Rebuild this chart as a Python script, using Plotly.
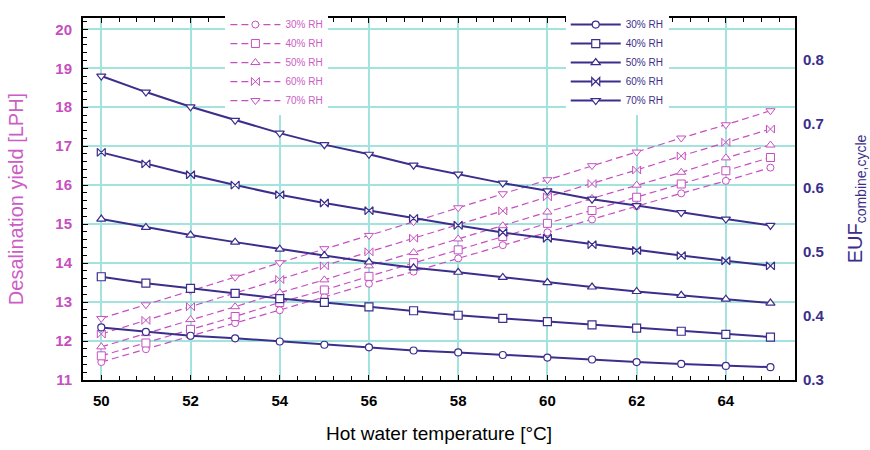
import plotly.graph_objects as go

temps = list(range(50, 66))
rh_labels = ["30% RH", "40% RH", "50% RH", "60% RH", "70% RH"]
symbols = ["circle", "square", "triangle-up", "bowtie", "triangle-down"]
marker_sizes = [7, 8, 8, 8, 8]

yield_30 = [11.46, 11.79, 12.13, 12.46, 12.79, 13.13, 13.47, 13.78, 14.12, 14.46, 14.79, 15.12, 15.46, 15.79, 16.11, 16.45]
yield_40 = [11.62, 11.95, 12.30, 12.63, 12.99, 13.31, 13.66, 14.01, 14.34, 14.68, 15.02, 15.35, 15.69, 16.03, 16.37, 16.71]
yield_50 = [11.85, 12.19, 12.55, 12.88, 13.24, 13.57, 13.93, 14.27, 14.62, 14.96, 15.31, 15.66, 16.00, 16.33, 16.70, 17.03]
yield_60 = [12.18, 12.53, 12.88, 13.22, 13.58, 13.93, 14.29, 14.64, 14.98, 15.34, 15.70, 16.04, 16.39, 16.75, 17.10, 17.44]
yield_70 = [12.58, 12.93, 13.30, 13.64, 14.01, 14.37, 14.71, 15.06, 15.42, 15.78, 16.14, 16.50, 16.85, 17.21, 17.55, 17.91]

euf_30 = [0.382, 0.375, 0.369, 0.365, 0.360, 0.355, 0.351, 0.346, 0.343, 0.339, 0.335, 0.332, 0.328, 0.325, 0.322, 0.320]
euf_40 = [0.461, 0.451, 0.443, 0.435, 0.427, 0.421, 0.414, 0.408, 0.401, 0.396, 0.391, 0.386, 0.381, 0.376, 0.371, 0.367]
euf_50 = [0.551, 0.538, 0.526, 0.515, 0.504, 0.494, 0.484, 0.475, 0.468, 0.460, 0.452, 0.445, 0.438, 0.432, 0.426, 0.420]
euf_60 = [0.655, 0.637, 0.620, 0.604, 0.589, 0.576, 0.564, 0.552, 0.541, 0.530, 0.521, 0.511, 0.502, 0.494, 0.486, 0.478]
euf_70 = [0.774, 0.749, 0.726, 0.705, 0.685, 0.667, 0.652, 0.635, 0.621, 0.607, 0.595, 0.582, 0.572, 0.561, 0.551, 0.541]

yields = [yield_30, yield_40, yield_50, yield_60, yield_70]
eufs = [euf_30, euf_40, euf_50, euf_60, euf_70]

MAG = "#c64fc0"
MAG_TXT = "#cc5cc6"
NAVY = "#3b2e8c"
GRID = "#a3e3dd"
FONT = "Arial, Liberation Sans, sans-serif"

fig = go.Figure()

for lab, sym, ms, yv in zip(rh_labels, symbols, marker_sizes, yields):
    fig.add_trace(go.Scatter(
        x=temps, y=yv, name=lab, mode="lines+markers", yaxis="y",
        line=dict(color=MAG, width=1.2, dash="7px,4px"),
        marker=dict(symbol=sym, size=ms, color="white", line=dict(color=MAG, width=1)),
        legend="legend",
    ))

for lab, sym, ms, ev in zip(rh_labels, symbols, marker_sizes, eufs):
    fig.add_trace(go.Scatter(
        x=temps, y=ev, name=lab, mode="lines+markers", yaxis="y2",
        line=dict(color=NAVY, width=2),
        marker=dict(symbol=sym, size=ms, color="white", line=dict(color=NAVY, width=1.2)),
        legend="legend2",
    ))

fig.update_layout(
    width=870, height=450,
    margin=dict(l=83, r=75, t=10, b=70),
    paper_bgcolor="white", plot_bgcolor="white",
    font=dict(family=FONT),
    xaxis=dict(
        range=[49.59, 65.55], dtick=2, tick0=50, automargin=False,
        showgrid=True, gridcolor=GRID, gridwidth=1.5,
        ticks="inside", ticklen=5, tickcolor="black", ticklabelstandoff=6,
        showline=True, linecolor="black", linewidth=2, mirror="ticks",
        tickfont=dict(size=15, color="black", weight="bold"),
        minor=dict(dtick=0.4, tick0=50, ticks="inside", ticklen=4, tickcolor="black", showgrid=False),
        title=dict(text="Hot water temperature [°C]", font=dict(size=19, color="black"), standoff=19),
        zeroline=False,
    ),
    yaxis=dict(
        range=[11, 20.29], dtick=1, tick0=11, automargin=False,
        showgrid=True, gridcolor=GRID, gridwidth=1.5,
        ticks="inside", ticklen=5, tickcolor="black", ticklabelstandoff=6,
        showline=True, linecolor="black", linewidth=2, mirror=True,
        tickfont=dict(size=15, color=MAG, weight="bold"),
        minor=dict(dtick=0.2, tick0=11, ticks="inside", ticklen=4, tickcolor="black", showgrid=False),
        title=dict(text="Desalination yield [LPH]", font=dict(size=20, color=MAG_TXT), standoff=26),
        zeroline=False,
    ),
    yaxis2=dict(
        range=[0.3, 0.8645], dtick=0.1, tick0=0.3, tickformat=".1f", automargin=False,
        overlaying="y", side="right", ticklabelstandoff=3,
        showgrid=False, ticks="", showline=True, linecolor="black", linewidth=2,
        tickfont=dict(size=15, color=NAVY, weight="bold"),
        title=dict(text="EUF<sub>combine,cycle</sub>", font=dict(size=20, color=NAVY), standoff=24),
        zeroline=False,
    ),
    legend=dict(
        x=0.2, y=1.022, xanchor="left", yanchor="top",
        bgcolor="white", borderwidth=0,
        font=dict(size=10, color=MAG_TXT), itemwidth=50,
    ),
    legend2=dict(
        x=0.678, y=1.022, xanchor="left", yanchor="top",
        bgcolor="white", borderwidth=0,
        font=dict(size=10, color=NAVY), itemwidth=50,
    ),
)

fig.write_html(
    "out.html",
    config={"displayModeBar": False},
    post_script="document.body.style.margin='0px';",
)
